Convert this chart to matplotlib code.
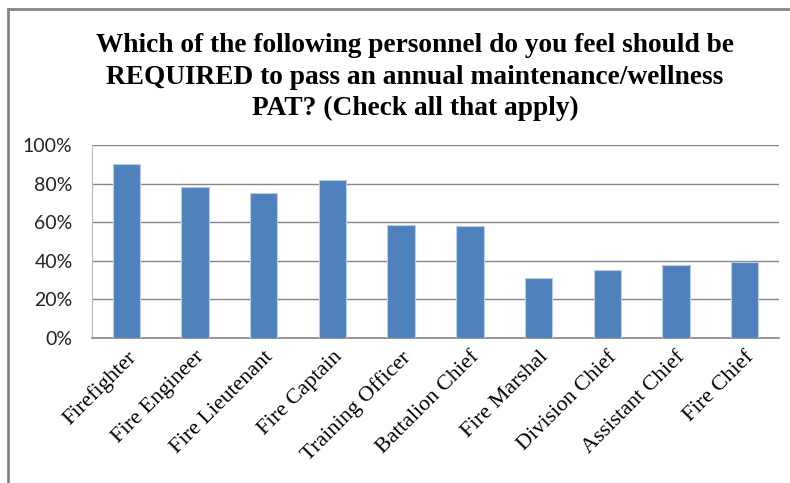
import matplotlib
matplotlib.use("Agg")
import matplotlib.pyplot as plt
from matplotlib.ticker import FuncFormatter
from matplotlib.lines import Line2D

categories = ["Firefighter", "Fire Engineer", "Fire Lieutenant", "Fire Captain",
              "Training Officer", "Battalion Chief", "Fire Marshal", "Division Chief",
              "Assistant Chief", "Fire Chief"]
values = [0.90, 0.78, 0.75, 0.82, 0.584, 0.579, 0.311, 0.354, 0.377, 0.392]
y_ticks = [0, 0.2, 0.4, 0.6, 0.8, 1.0]

title_lines = ["Which of the following personnel do you feel should be",
               "REQUIRED to pass an annual maintenance/wellness",
               "PAT? (Check all that apply)"]

W, H = 790, 483
fig = plt.figure(figsize=(W / 100, H / 100), dpi=100)
fig.patch.set_facecolor("white")

# chart-area frame (top and left edges)
fig.add_artist(Line2D([8 / W, 1.0], [1 - 9 / H, 1 - 9 / H], color="#868686", lw=2,
                      transform=fig.transFigure))
fig.add_artist(Line2D([8 / W, 8 / W], [0, 1 - 9 / H], color="#868686", lw=2,
                      transform=fig.transFigure))

left, right, top, bottom = 92, 779, 145, 338
ax = fig.add_axes([left / W, 1 - bottom / H, (right - left) / W, (bottom - top) / H])

x = range(len(categories))
ax.bar(x, values, width=0.4, color="#4F81BD", edgecolor="#B9CDE5", linewidth=0.8, zorder=3)

ax.set_xlim(-0.5, len(categories) - 0.5)
ax.set_ylim(0, 1.0)
ax.set_yticks(y_ticks)
ax.yaxis.set_major_formatter(FuncFormatter(lambda v, p: f"{v * 100:.0f}%"))
ax.grid(axis="y", color="#868686", linewidth=1.0, zorder=0)
ax.tick_params(axis="both", length=0)
ax.tick_params(axis="y", pad=14, labelsize=14, labelcolor="#222222")
for lab in ax.get_yticklabels():
    lab.set_family("Lato")

ax.set_xticks(list(x))
ax.set_xticklabels(categories, rotation=45, ha="right", va="top",
                   rotation_mode="anchor", family="Liberation Serif", fontsize=16)
ax.tick_params(axis="x", pad=7)

for s in ["top", "right"]:
    ax.spines[s].set_visible(False)
ax.spines["left"].set_color("#BBBBBB")
ax.spines["bottom"].set_color("#868686")
ax.spines["bottom"].set_linewidth(1.2)

for line, yc in zip(title_lines, [45, 77, 108]):
    fig.text(415 / W, 1 - yc / H, line, ha="center", va="center",
             family="Liberation Serif", fontweight="bold", fontsize=19.7)

fig.savefig("out.png", dpi=100, facecolor="white")
